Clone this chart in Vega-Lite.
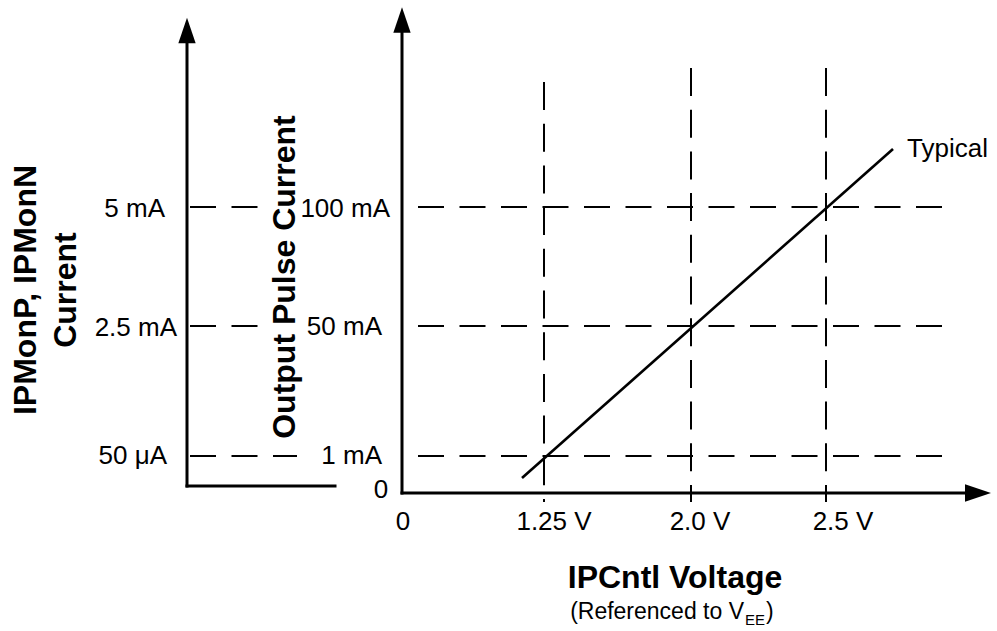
{
  "$schema": "https://vega.github.io/schema/vega-lite/v6.json",
  "width": 997,
  "height": 631,
  "padding": 0,
  "autosize": {"type": "none"},
  "background": "white",
  "config": {"view": {"stroke": null}, "text": {"font": "Liberation Sans", "color": "black"}},
  "datasets": {
    "axes": [
      {"part": "left vertical", "x": -215, "y": 7, "x2": -215, "y2": 458},
      {"part": "left horizontal", "x": -215, "y": 7, "x2": -67, "y2": 7},
      {"part": "main vertical", "x": 0, "y": 0, "x2": 0, "y2": 468},
      {"part": "main horizontal", "x": 0, "y": 0, "x2": 570, "y2": 0}
    ],
    "arrowsUp": [
      {"axis": "IPMonP, IPMonN Current", "x": -215, "y": 462.5},
      {"axis": "Output Pulse Current", "x": 0, "y": 473}
    ],
    "arrowRight": [
      {"axis": "IPCntl Voltage", "x": 576, "y": 0}
    ],
    "hLeft": [
      {"level": "5 mA", "x": -212, "x2": -144, "y": 286},
      {"level": "2.5 mA", "x": -212, "x2": -144, "y": 167},
      {"level": "50 μA", "x": -212, "x2": -105, "y": 37}
    ],
    "hMain": [
      {"level": "100 mA", "x": 16, "x2": 543, "y": 286},
      {"level": "50 mA", "x": 16, "x2": 543, "y": 167},
      {"level": "1 mA", "x": 16, "x2": 543, "y": 37}
    ],
    "vLines": [
      {"level": "1.25 V", "x": 142, "y": 411, "y2": -9},
      {"level": "2.0 V", "x": 289, "y": 425, "y2": -9},
      {"level": "2.5 V", "x": 424, "y": 425, "y2": -9}
    ],
    "typical": [
      {"series": "Typical", "x": 120, "y": 15, "x2": 491, "y2": 344}
    ],
    "labelsRight": [
      {"label": "5 mA", "x": -237, "y": 276.5},
      {"label": "2.5 mA", "x": -225, "y": 157},
      {"label": "50 μA", "x": -235, "y": 29},
      {"label": "100 mA", "x": -12, "y": 276},
      {"label": "50 mA", "x": -20, "y": 158},
      {"label": "1 mA", "x": -20, "y": 29}
    ],
    "labelsCenter": [
      {"label": "0", "x": -21, "y": -5},
      {"label": "0", "x": 1, "y": -37},
      {"label": "1.25 V", "x": 152, "y": -37},
      {"label": "2.0 V", "x": 298, "y": -37},
      {"label": "2.5 V", "x": 441, "y": -37}
    ],
    "typicalLabel": [
      {"label": "Typical", "x": 505, "y": 336}
    ],
    "titlesRot": [
      {"title": "IPMonP, IPMonN", "x": -366, "y": 203},
      {"title": "Current", "x": -326, "y": 203},
      {"title": "Output Pulse Current", "x": -107, "y": 216}
    ],
    "xTitle": [
      {"title": "IPCntl Voltage", "x": 273, "y": -95}
    ],
    "subMain": [
      {"text": "(Referenced to V", "x": 342, "y": -126}
    ],
    "subScript": [
      {"text": "EE", "x": 343, "y": -132}
    ],
    "subClose": [
      {"text": ")", "x": 364, "y": -126}
    ]
  },
  "encoding": {
    "x": {"field": "x", "type": "quantitative", "scale": {"domain": [-402, 595], "nice": false, "zero": false}, "axis": null},
    "y": {"field": "y", "type": "quantitative", "scale": {"domain": [-138, 493], "nice": false, "zero": false}, "axis": null}
  },
  "layer": [
    {
      "data": {"name": "hLeft"},
      "mark": {"type": "rule", "color": "black", "strokeWidth": 2, "strokeDash": [26, 15.5]},
      "encoding": {"x2": {"field": "x2"}}
    },
    {
      "data": {"name": "hMain"},
      "mark": {"type": "rule", "color": "black", "strokeWidth": 2, "strokeDash": [26, 15.5]},
      "encoding": {"x2": {"field": "x2"}}
    },
    {
      "data": {"name": "vLines"},
      "mark": {"type": "rule", "color": "black", "strokeWidth": 2, "strokeDash": [28, 13.7]},
      "encoding": {"y2": {"field": "y2"}}
    },
    {
      "data": {"name": "typical"},
      "mark": {"type": "rule", "color": "black", "strokeWidth": 2.6},
      "encoding": {"x2": {"field": "x2"}, "y2": {"field": "y2"}}
    },
    {
      "data": {"name": "axes"},
      "mark": {"type": "rule", "color": "black", "strokeWidth": 3, "strokeCap": "square"},
      "encoding": {"x2": {"field": "x2"}, "y2": {"field": "y2"}}
    },
    {
      "data": {"name": "arrowsUp"},
      "mark": {"type": "point", "shape": "M0,-1L0.68,1L-0.68,1Z", "filled": true, "size": 650, "color": "black", "opacity": 1, "strokeWidth": 0}
    },
    {
      "data": {"name": "arrowRight"},
      "mark": {"type": "point", "shape": "M1,0L-1,-0.68L-1,0.68Z", "filled": true, "size": 676, "color": "black", "opacity": 1, "strokeWidth": 0}
    },
    {
      "data": {"name": "labelsRight"},
      "mark": {"type": "text", "align": "right", "baseline": "alphabetic", "fontSize": 26},
      "encoding": {"text": {"field": "label"}}
    },
    {
      "data": {"name": "labelsCenter"},
      "mark": {"type": "text", "align": "center", "baseline": "alphabetic", "fontSize": 26},
      "encoding": {"text": {"field": "label"}}
    },
    {
      "data": {"name": "typicalLabel"},
      "mark": {"type": "text", "align": "left", "baseline": "alphabetic", "fontSize": 26},
      "encoding": {"text": {"field": "label"}}
    },
    {
      "data": {"name": "titlesRot"},
      "mark": {"type": "text", "align": "center", "baseline": "alphabetic", "angle": 270, "fontSize": 32, "fontWeight": "bold"},
      "encoding": {"text": {"field": "title"}}
    },
    {
      "data": {"name": "xTitle"},
      "mark": {"type": "text", "align": "center", "baseline": "alphabetic", "fontSize": 32, "fontWeight": "bold"},
      "encoding": {"text": {"field": "title"}}
    },
    {
      "data": {"name": "subMain"},
      "mark": {"type": "text", "align": "right", "baseline": "alphabetic", "fontSize": 23},
      "encoding": {"text": {"field": "text"}}
    },
    {
      "data": {"name": "subScript"},
      "mark": {"type": "text", "align": "left", "baseline": "alphabetic", "fontSize": 15},
      "encoding": {"text": {"field": "text"}}
    },
    {
      "data": {"name": "subClose"},
      "mark": {"type": "text", "align": "left", "baseline": "alphabetic", "fontSize": 23},
      "encoding": {"text": {"field": "text"}}
    }
  ]
}
